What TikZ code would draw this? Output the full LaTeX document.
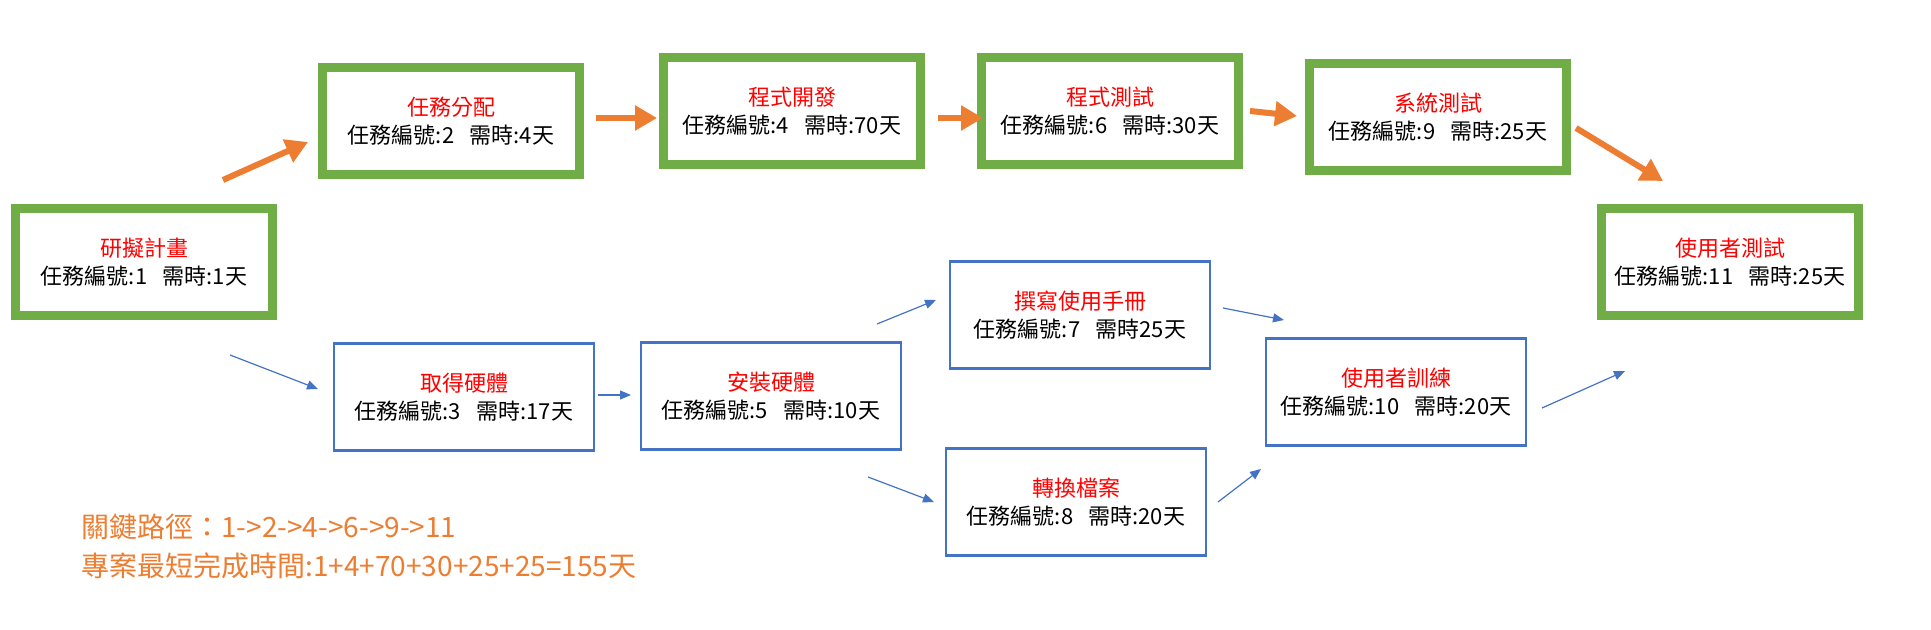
\documentclass[tikz,border=0pt]{standalone}
\usepackage{fontspec}
\setmainfont{Noto Sans CJK TC}
\usetikzlibrary{arrows.meta}
\definecolor{pgreen}{HTML}{70AD47}
\definecolor{pblue}{HTML}{4472C4}
\definecolor{porange}{HTML}{ED7D31}
\definecolor{pred}{HTML}{FF0000}
\newcommand{\tasktext}[3]{{\color{pred}#1}\\任務編號:#2\hspace{0.7em}需時#3天}
\begin{document}
\begin{tikzpicture}[x=0.5pt,y=-0.5pt,
  boxbase/.style={inner sep=0pt,align=center,font=\fontsize{11}{14}\selectfont,fill=white},
  crit/.style={boxbase,draw=pgreen,line width=4.5pt,minimum width=128.5pt,minimum height=53.5pt},
  norm/.style={boxbase,draw=pblue,line width=1.25pt,minimum width=130pt,minimum height=53.5pt},
  carrow/.style={draw=porange,line width=3pt,-{Triangle[length=11pt,width=12pt]}},
  barrow/.style={draw=pblue,line width=0.6pt,-{Triangle[length=5.5pt,width=4.5pt]}},
  note/.style={text=porange,font=\fontsize{14}{19.5}\selectfont,align=left,inner sep=0pt,anchor=west}]
\useasboundingbox (0,0) rectangle (1931,630);
% critical path boxes
\node[crit] (b1) at (144,262) {\tasktext{研擬計畫}{1}{:1}};
\node[crit] (b2) at (451,121) {\tasktext{任務分配}{2}{:4}};
\node[crit] (b4) at (792,111) {\tasktext{程式開發}{4}{:70}};
\node[crit] (b6) at (1110,111) {\tasktext{程式測試}{6}{:30}};
\node[crit] (b9) at (1438,117) {\tasktext{系統測試}{9}{:25}};
\node[crit] (b11) at (1730,262) {\tasktext{使用者測試}{11}{:25}};
% other boxes
\node[norm] (b3) at (464,397) {\tasktext{取得硬體}{3}{:17}};
\node[norm] (b5) at (771,396) {\tasktext{安裝硬體}{5}{:10}};
\node[norm] (b7) at (1080,315) {\tasktext{撰寫使用手冊}{7}{25}};
\node[norm] (b8) at (1076,502) {\tasktext{轉換檔案}{8}{:20}};
\node[norm] (b10) at (1396,392) {\tasktext{使用者訓練}{10}{:20}};
% arrow end points
\coordinate (a12s) at (223,180); \coordinate (a12e) at (308,142);
\coordinate (a24s) at (596,118); \coordinate (a24e) at (657,118);
\coordinate (a46s) at (938,118); \coordinate (a46e) at (983,118);
\coordinate (a69s) at (1250,111); \coordinate (a69e) at (1297,116);
\coordinate (a911s) at (1576,128); \coordinate (a911e) at (1663,181);
\coordinate (a13s) at (230,355); \coordinate (a13e) at (318,389);
\coordinate (a35s) at (598,395); \coordinate (a35e) at (631,395);
\coordinate (a57s) at (877,324); \coordinate (a57e) at (936,300);
\coordinate (a58s) at (868,477); \coordinate (a58e) at (934,502);
\coordinate (a710s) at (1223,308); \coordinate (a710e) at (1284,320);
\coordinate (a810s) at (1218,502); \coordinate (a810e) at (1261,469);
\coordinate (a1011s) at (1542,408); \coordinate (a1011e) at (1625,371);
\draw[carrow] (a12s) -- (a12e);
\draw[carrow] (a24s) -- (a24e);
\draw[carrow] (a46s) -- (a46e);
\draw[carrow] (a69s) -- (a69e);
\draw[carrow] (a911s) -- (a911e);
\draw[barrow] (a13s) -- (a13e);
\draw[barrow] (a35s) -- (a35e);
\draw[barrow] (a57s) -- (a57e);
\draw[barrow] (a58s) -- (a58e);
\draw[barrow] (a710s) -- (a710e);
\draw[barrow] (a810s) -- (a810e);
\draw[barrow] (a1011s) -- (a1011e);
% notes
\node[note] (n1) at (81,527) {關鍵路徑：1->2->4->6->9->11};
\node[note] (n2) at (81,566) {專案最短完成時間:1+4+70+30+25+25=155天};
\end{tikzpicture}
\end{document}
